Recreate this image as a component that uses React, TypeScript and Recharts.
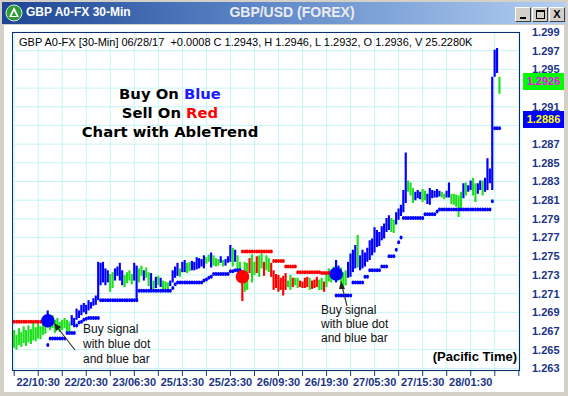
import React from 'react';
import { ComposedChart, Bar, Line, XAxis, YAxis, CartesianGrid, Cell } from 'recharts';

// 30-minute bars, GBP/USD, left to right
const highs = [
  1.2671, 1.2666, 1.2673, 1.2669, 1.2675, 1.2671, 1.2676, 1.2672, 1.2680, 1.2674,
  1.2679, 1.2675, 1.2682, 1.2680, 1.2692, 1.2684, 1.2687, 1.2682, 1.2684, 1.2680,
  1.2682, 1.2684, 1.2682, 1.2680, 1.2687, 1.2684, 1.2694, 1.2692, 1.2698, 1.2700,
  1.2698, 1.2703, 1.2701, 1.2705, 1.2708, 1.2744, 1.2743, 1.2744, 1.2737, 1.2735,
  1.2731, 1.2733, 1.2737, 1.2739, 1.2743, 1.2735, 1.2730, 1.2733, 1.2735, 1.2731,
  1.2743, 1.2740, 1.2737, 1.2740, 1.2735, 1.2738, 1.2733, 1.2732, 1.2724, 1.2728,
  1.2729, 1.2727, 1.2724, 1.2723, 1.2722, 1.2724, 1.2735, 1.2739, 1.2743, 1.2737,
  1.2744, 1.2746, 1.2743, 1.2744, 1.2745, 1.2744, 1.2749, 1.2748, 1.2747, 1.2751,
  1.2749, 1.2752, 1.2754, 1.2751, 1.2748, 1.2747, 1.2750, 1.2746, 1.2747, 1.2750,
  1.2762, 1.2759, 1.2757, 1.2751, 1.2744, 1.2729, 1.2744, 1.2743, 1.2748, 1.2752,
  1.2744, 1.2750, 1.2751, 1.2753, 1.2744, 1.2751, 1.2748, 1.2743, 1.2735, 1.2731,
  1.2730, 1.2727, 1.2729, 1.2732, 1.2724, 1.2730, 1.2727, 1.2727, 1.2727, 1.2724,
  1.2723, 1.2727, 1.2728, 1.2727, 1.2724, 1.2725, 1.2728, 1.2725, 1.2727, 1.2723,
  1.2731, 1.2737, 1.2735, 1.2739, 1.2746, 1.2740, 1.2738, 1.2733, 1.2735, 1.2744,
  1.2753, 1.2757, 1.2762, 1.2773, 1.2751, 1.2757, 1.2754, 1.2759, 1.2767, 1.2769,
  1.2781, 1.2778, 1.2776, 1.2782, 1.2785, 1.2791, 1.2794, 1.2791, 1.2789, 1.2797,
  1.2801, 1.2805, 1.2821, 1.2861, 1.2831, 1.2829, 1.2823, 1.2819, 1.2821, 1.2819,
  1.2822, 1.2820, 1.2817, 1.2823, 1.2821, 1.2820, 1.2822, 1.2820, 1.2819, 1.2817,
  1.2820, 1.2829, 1.2817, 1.2817, 1.2816, 1.2815, 1.2819, 1.2828, 1.2829, 1.2826,
  1.2831, 1.2834, 1.2828, 1.2828, 1.2831, 1.2831, 1.2834, 1.2855, 1.2844, 1.2942,
  1.2971, 1.2973, 1.2942,
];

const lows = [
  1.2652, 1.2650, 1.2655, 1.2653, 1.2657, 1.2654, 1.2658, 1.2656, 1.2660, 1.2659,
  1.2662, 1.2661, 1.2666, 1.2667, 1.2674, 1.2671, 1.2673, 1.2668, 1.2671, 1.2669,
  1.2671, 1.2673, 1.2668, 1.2669, 1.2676, 1.2674, 1.2682, 1.2684, 1.2687, 1.2690,
  1.2688, 1.2692, 1.2694, 1.2697, 1.2698, 1.2703, 1.2719, 1.2722, 1.2719, 1.2722,
  1.2712, 1.2716, 1.2724, 1.2729, 1.2724, 1.2719, 1.2717, 1.2721, 1.2724, 1.2720,
  1.2724, 1.2703, 1.2722, 1.2729, 1.2724, 1.2727, 1.2718, 1.2713, 1.2714, 1.2716,
  1.2719, 1.2717, 1.2715, 1.2715, 1.2714, 1.2718, 1.2722, 1.2727, 1.2729, 1.2728,
  1.2733, 1.2733, 1.2732, 1.2734, 1.2735, 1.2735, 1.2736, 1.2737, 1.2739, 1.2737,
  1.2742, 1.2744, 1.2738, 1.2740, 1.2739, 1.2740, 1.2743, 1.2739, 1.2740, 1.2743,
  1.2744, 1.2739, 1.2744, 1.2735, 1.2729, 1.2702, 1.2712, 1.2714, 1.2732, 1.2722,
  1.2730, 1.2732, 1.2728, 1.2737, 1.2729, 1.2735, 1.2733, 1.2728, 1.2714, 1.2716,
  1.2712, 1.2714, 1.2708, 1.2714, 1.2717, 1.2714, 1.2717, 1.2719, 1.2716, 1.2717,
  1.2716, 1.2716, 1.2717, 1.2714, 1.2715, 1.2716, 1.2717, 1.2714, 1.2714, 1.2712,
  1.2717, 1.2723, 1.2722, 1.2727, 1.2722, 1.2727, 1.2721, 1.2717, 1.2719, 1.2727,
  1.2728, 1.2733, 1.2737, 1.2738, 1.2735, 1.2737, 1.2739, 1.2744, 1.2746, 1.2751,
  1.2754, 1.2760, 1.2761, 1.2767, 1.2769, 1.2776, 1.2778, 1.2776, 1.2775, 1.2784,
  1.2789, 1.2793, 1.2797, 1.2807, 1.2819, 1.2815, 1.2807, 1.2810, 1.2812, 1.2811,
  1.2808, 1.2810, 1.2806, 1.2805, 1.2812, 1.2813, 1.2813, 1.2814, 1.2813, 1.2811,
  1.2813, 1.2813, 1.2806, 1.2805, 1.2803, 1.2792, 1.2799, 1.2812, 1.2815, 1.2819,
  1.2821, 1.2815, 1.2808, 1.2817, 1.2821, 1.2815, 1.2819, 1.2821, 1.2828, 1.2821,
  1.2942, 1.2946, 1.2924,
];

// bar colours: G = green, B = blue (buy trend), R = red (sell trend)
const barColors =
  'GGGGGGGGGG' + 'GGGGBGGGGG' + 'GGGGBBBBBB' + 'BBBBBBBBBB' + 'GGBBBBGGGG' +
  'BBGGBGGBGB' + 'GBGGGBBBBG' + 'BBGGBBBBBB' + 'GGBGGGBGBB' + 'BGBGGRGGRG' +
  'GRGGRGGRRR' + 'RRRRGGRGGR' + 'RRRGRRRGGR' + 'GGGGBBGGGB' + 'BBBGBBBBBB' +
  'BBBBBBBGGB' + 'BBBBGGGBBB' + 'GGBBBBBBGG' + 'BBGGGGGBGB' + 'BGGBBGBBBB' +
  'BBG';

// trailing stop levels: [first bar, last bar, price]
const blueStops: [number, number, number][] = [
  [14, 14, 1.2655], [15, 21, 1.2662], [22, 25, 1.2668], [26, 26, 1.2676], [27, 27, 1.2679],
  [28, 28, 1.2680], [29, 29, 1.2682], [30, 30, 1.2683], [31, 35, 1.2684], [36, 51, 1.2703],
  [52, 65, 1.2713], [66, 66, 1.2716], [67, 67, 1.2720], [68, 78, 1.2722], [79, 79, 1.2724],
  [80, 80, 1.2725], [81, 81, 1.2727], [82, 82, 1.2728], [83, 89, 1.2731], [90, 91, 1.2734],
  [92, 94, 1.2735],
  [134, 140, 1.2708], [141, 145, 1.2722], [146, 147, 1.2728], [148, 152, 1.2735],
  [153, 155, 1.2739], [156, 158, 1.2750], [159, 159, 1.2757], [160, 160, 1.2765],
  [161, 161, 1.2770], [162, 170, 1.2791], [171, 175, 1.2795], [176, 176, 1.2798],
  [177, 198, 1.2800], [199, 199, 1.2809], [200, 202, 1.2887],
];

const redStops: [number, number, number][] = [
  [0, 12, 1.2680], [95, 107, 1.2755], [108, 112, 1.2745], [113, 117, 1.2739],
  [118, 127, 1.2733], [128, 133, 1.2732],
];

// signal dots: [bar, price, kind]
const signals: [number, number, string][] = [
  [14, 1.2681, 'B'],
  [95, 1.2728, 'R'],
  [134, 1.2731, 'B'],
];

const timeLabels = ['22/10:30', '22/20:30', '23/06:30', '25/13:30', '25/23:30', '26/09:30', '26/19:30', '27/05:30', '27/15:30', '28/01:30'];
const timeLabelBars = [10, 30, 50, 70, 90, 110, 130, 150, 170, 190];
const gridBars = [0, 10, 20, 30, 40, 50, 60, 70, 80, 90, 100, 110, 120, 130, 140, 150, 160, 170, 180, 190, 200, 210];
const priceTicks = [1.263, 1.265, 1.267, 1.269, 1.271, 1.273, 1.275, 1.277, 1.279, 1.281, 1.283, 1.285, 1.287, 1.289, 1.291, 1.293, 1.295, 1.297, 1.299];
// labels hidden behind the last-price tags
const coveredTicks = [1.289, 1.293];

const SLOTS = 211;
const COLORS: Record<string, string> = { G: '#1fe01f', B: '#0000ff', R: '#ff0000' };
const NAVY = '#1b3486';

function expand(stops: [number, number, number][]) {
  const arr: (number | null)[] = new Array(SLOTS).fill(null);
  stops.forEach(([s, e, p]) => {
    for (let k = s; k <= e; k++) arr[k] = p;
  });
  return arr;
}

const blueArr = expand(blueStops);
const redArr = expand(redStops);
const sigPrice: (number | null)[] = new Array(SLOTS).fill(null);
const sigKind: string[] = new Array(SLOTS).fill('');
signals.forEach(([b, p, k]) => { sigPrice[b] = p; sigKind[b] = k; });

const data = Array.from({ length: SLOTS }, (_, i) => ({
  i,
  range: i < highs.length ? [lows[i], highs[i]] : undefined,
  c: barColors[i] || '',
  bd: blueArr[i],
  rd: redArr[i],
  sig: sigPrice[i],
  sk: sigKind[i],
}));

const bead = (color: string, key: string) => (props: any) => {
  const { cx, cy, index, payload } = props;
  if (cx == null || cy == null || payload == null || payload[key] == null) return <g key={`${key}-${index}`} />;
  return <ellipse key={`${key}-${index}`} cx={cx} cy={cy} rx={1.5} ry={2} fill={color} />;
};

const sigDot = (props: any) => {
  const { cx, cy, index, payload } = props;
  if (cx == null || cy == null || payload == null || payload.sig == null) return <g key={`s-${index}`} />;
  return <circle key={`s-${index}`} cx={cx} cy={cy} r={6.8} fill={COLORS[payload.sk]} />;
};

const xFmt = (v: number) => {
  const k = timeLabelBars.indexOf(v);
  return k >= 0 ? timeLabels[k] : '';
};

const yFmt = (v: number) => (coveredTicks.some((c) => Math.abs(c - v) < 1e-6) ? '' : v.toFixed(3));

const btn = (left: number, glyph: React.ReactNode) => (
  <div style={{
    position: 'absolute', left, top: 5, width: 14, height: 13, background: '#d4d0c8',
    borderTop: '1px solid #fff', borderLeft: '1px solid #fff', borderRight: '1px solid #404040', borderBottom: '1px solid #404040',
    display: 'flex', alignItems: 'center', justifyContent: 'center', fontSize: 11, fontWeight: 'bold', color: '#000', lineHeight: '13px',
  }}>{glyph}</div>
);

export default function App() {
  return (
    <div style={{ position: 'absolute', left: 0, top: 0, width: 568, height: 396, background: '#d4d0c8', overflow: 'hidden', fontFamily: 'Arial, "Liberation Sans", sans-serif' }}>
      {/* title bar */}
      <div style={{ position: 'absolute', left: 2, top: 2, width: 564, height: 22, background: 'linear-gradient(90deg, #1d4593 0%, #5d86c8 45%, #b2cff1 100%)' }}>
        <svg width={18} height={18} style={{ position: 'absolute', left: 3, top: 2 }}>
          <circle cx={9} cy={9} r={8} fill="#2f9a3a" stroke="#d8e8d8" strokeWidth={1} />
          <polygon points="9,3 14,13 4,13" fill="#ffffff" />
          <polygon points="9,7 11.5,12 6.5,12" fill="#2f9a3a" />
        </svg>
        <div style={{ position: 'absolute', left: 24, top: 3, fontSize: 12, fontWeight: 'bold', color: '#fff', whiteSpace: 'nowrap' }}>GBP A0-FX 30-Min</div>
        <div style={{ position: 'absolute', left: 190, width: 200, top: 2, textAlign: 'center', fontSize: 14, fontWeight: 'bold', color: '#ececec', whiteSpace: 'nowrap' }}>GBP/USD (FOREX)</div>
        {btn(513, <div style={{ width: 6, height: 2, background: '#000', marginTop: 6 }} />)}
        {btn(530, <div style={{ width: 7, height: 6, border: '1px solid #000', borderTopWidth: 2 }} />)}
        {btn(547, <span style={{ fontSize: 11 }}>X</span>)}
      </div>
      {/* white client area */}
      <div style={{ position: 'absolute', left: 4, top: 25, width: 560, height: 367, background: '#ffffff' }} />

      <div style={{ position: 'absolute', left: 0, top: 0 }}>
        <ComposedChart width={568} height={396} data={data} margin={{ top: 32, left: 13, right: 0, bottom: 0 }} barCategoryGap={0}>
          <CartesianGrid stroke="#c4f4f4" strokeWidth={1} />
          <XAxis
            dataKey="i"
            type="category"
            ticks={gridBars}
            interval={0}
            tickFormatter={xFmt}
            height={25}
            tickSize={5}
            tickMargin={2}
            axisLine={false}
            tickLine={{ stroke: NAVY }}
            tick={{ fill: NAVY, fontSize: 11, fontWeight: 'bold', fontFamily: 'Arial, "Liberation Sans", sans-serif' }}
          />
          <YAxis
            orientation="right"
            type="number"
            domain={[1.26272, 1.299]}
            allowDataOverflow
            ticks={priceTicks}
            interval={0}
            width={48}
            tickSize={0}
            tickMargin={12}
            axisLine={false}
            tickLine={false}
            tickFormatter={yFmt}
            tick={{ fill: NAVY, fontSize: 11, fontWeight: 'bold', fontFamily: 'Arial, "Liberation Sans", sans-serif' }}
          />
          <Bar dataKey="range" barSize={3} isAnimationActive={false}>
            {data.map((d, idx) => (
              <Cell key={idx} fill={COLORS[d.c] || 'transparent'} />
            ))}
          </Bar>
          <Line dataKey="bd" stroke="none" dot={bead('#0000ff', 'bd')} activeDot={false} isAnimationActive={false} connectNulls={false} />
          <Line dataKey="rd" stroke="none" dot={bead('#ff0000', 'rd')} activeDot={false} isAnimationActive={false} connectNulls={false} />
          <Line dataKey="sig" stroke="none" dot={sigDot} activeDot={false} isAnimationActive={false} connectNulls={false} />
        </ComposedChart>
      </div>

      {/* plot border */}
      <div style={{ position: 'absolute', left: 12, top: 32, width: 506, height: 337, border: '1.5px solid #0d2a72', pointerEvents: 'none' }} />

      {/* info line */}
      <div style={{ position: 'absolute', left: 19, top: 36, fontSize: 11, color: '#000', whiteSpace: 'pre' }}>
        {'GBP A0-FX [30-Min] 06/28/17  +0.0008 C 1.2943, H 1.2946, L 1.2932, O 1.2936, V 25.2280K'}
      </div>

      {/* headline */}
      <div style={{ position: 'absolute', left: 70, width: 200, top: 84, textAlign: 'center', fontFamily: '"DejaVu Sans", sans-serif', fontWeight: 'bold', fontSize: 14.8, lineHeight: '19px', color: '#000', whiteSpace: 'nowrap' }}>
        <div>Buy On <span style={{ color: '#1a1aff' }}>Blue</span></div>
        <div>Sell On <span style={{ color: '#ff0000' }}>Red</span></div>
        <div>Chart with AbleTrend</div>
      </div>

      {/* annotations */}
      <div style={{ position: 'absolute', left: 83, top: 322, fontSize: 12, lineHeight: '15px', color: '#111', whiteSpace: 'nowrap' }}>
        <div>Buy signal</div>
        <div>with blue dot</div>
        <div>and blue bar</div>
      </div>
      <div style={{ position: 'absolute', left: 321, top: 303, fontSize: 12, lineHeight: '14px', color: '#111', whiteSpace: 'nowrap' }}>
        <div>Buy signal</div>
        <div>with blue dot</div>
        <div>and blue bar</div>
      </div>
      <div style={{ position: 'absolute', left: 400, width: 117, top: 349, textAlign: 'right', fontSize: 13, fontWeight: 'bold', color: '#000', whiteSpace: 'nowrap' }}>(Pacific Time)</div>

      <svg width={568} height={396} style={{ position: 'absolute', left: 0, top: 0, pointerEvents: 'none' }}>
        <line x1={75} y1={350} x2={57} y2={327} stroke="#333" strokeWidth={1.2} />
        <polygon points="54,323 61,327 56,331" fill="#222" />
        <line x1={347} y1={306} x2={342} y2={286} stroke="#333" strokeWidth={1.2} />
        <polygon points="341,281 345,289 339,289" fill="#222" />
      </svg>

      {/* last price tags */}
      <div style={{ position: 'absolute', left: 523, top: 73, width: 41, height: 17, background: '#00ff00', color: '#ff00ff', fontSize: 11, fontWeight: 'bold', lineHeight: '17px', textAlign: 'center' }}>1.2926</div>
      <div style={{ position: 'absolute', left: 523, top: 111, width: 41, height: 17, background: '#0000ff', color: '#ffff00', fontSize: 11, fontWeight: 'bold', lineHeight: '17px', textAlign: 'center' }}>1.2886</div>
    </div>
  );
}
